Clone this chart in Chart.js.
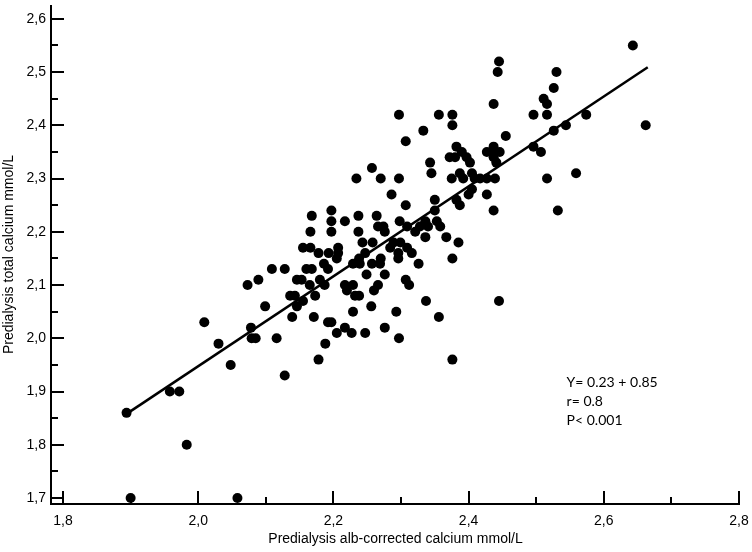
<!DOCTYPE html>
<html lang="en">
<head>
<meta charset="UTF-8">
<title>Predialysis calcium</title>
<script src="https://cdn.jsdelivr.net/npm/chart.js@4"></script>
<style>
  body { margin: 0; background: #fff; }
  .chart-container { position: relative; width: 752px; height: 552px; }
</style>
</head>
<body>
<div class="chart-container"><canvas id="calciumChart" width="752" height="552"></canvas></div>
<script>
// alb-corrected calcium (x) and total calcium (y), mmol/L
const correctedCa = [
  1.894, 1.900, 1.958, 1.972, 1.983, 2.058, 2.009, 2.030, 2.048, 2.073,
  2.089, 2.078, 2.079, 2.085, 2.099, 2.116, 2.109, 2.128, 2.128, 2.136,
  2.143, 2.139, 2.146, 2.153, 2.155, 2.146, 2.160, 2.168, 2.165, 2.173,
  2.171, 2.180, 2.187, 2.186, 2.192, 2.178, 2.188, 2.192, 2.197, 2.205,
  2.217, 2.227, 2.247, 2.229, 2.256, 2.276, 2.293, 2.297, 2.217, 2.229,
  2.220, 2.232, 2.238, 2.229, 2.239, 2.249, 2.257, 2.269, 2.276, 2.266,
  2.260, 2.307, 2.312, 2.326, 2.337, 2.445, 2.356, 2.376,
  2.168, 2.197, 2.197, 2.217, 2.237, 2.166, 2.197, 2.237, 2.155, 2.166,
  2.178, 2.193, 2.207, 2.207, 2.205, 2.243, 2.258, 2.247, 2.238, 2.264,
  2.266, 2.274, 2.276, 2.298, 2.309, 2.321, 2.328, 2.336, 2.340, 2.353,
  2.358, 2.336, 2.367, 2.385, 2.289, 2.299, 2.284, 2.296, 2.309, 2.316,
  2.270, 2.296, 2.376,
  2.234, 2.257, 2.270, 2.297, 2.343, 2.345, 2.286, 2.307, 2.350, 2.350,
  2.382, 2.387, 2.400, 2.437, 2.532, 2.405, 2.427, 2.375, 2.387, 2.392,
  2.405, 2.409, 2.417, 2.427, 2.439, 2.516, 2.559, 2.382, 2.372, 2.380,
  2.390, 2.397, 2.402, 2.427, 2.437, 2.439, 2.437, 2.441, 2.446, 2.496,
  2.507, 2.455, 2.297, 2.356, 2.376, 2.376, 2.333, 2.307, 2.437, 2.443,
  2.445, 2.643, 2.530, 2.526, 2.511, 2.516, 2.496, 2.516, 2.574, 2.544,
  2.526, 2.662
];
const totalCa = [
  1.86, 1.70, 1.90, 1.90, 1.80, 1.70, 2.03, 1.99, 1.95, 2.10,
  2.11, 2.02, 2.00, 2.00, 2.06, 2.00, 2.13, 2.13, 1.93, 2.08,
  2.08, 2.04, 2.11, 2.11, 2.07, 2.06, 2.13, 2.13, 2.10, 2.08,
  2.04, 2.11, 2.10, 2.14, 2.13, 1.96, 1.99, 2.03, 2.03, 2.01,
  2.02, 2.01, 2.01, 2.05, 2.06, 2.02, 2.05, 2.00, 2.10, 2.10,
  2.09, 2.08, 2.08, 2.14, 2.14, 2.12, 2.14, 2.14, 2.12, 2.10,
  2.09, 2.11, 2.10, 2.14, 2.07, 2.07, 2.04, 1.96,
  2.23, 2.24, 2.22, 2.22, 2.23, 2.20, 2.20, 2.20, 2.17, 2.17,
  2.16, 2.16, 2.17, 2.16, 2.15, 2.18, 2.18, 2.16, 2.15, 2.23,
  2.21, 2.21, 2.20, 2.22, 2.21, 2.20, 2.21, 2.22, 2.21, 2.22,
  2.21, 2.19, 2.19, 2.18, 2.18, 2.18, 2.17, 2.16, 2.17, 2.16,
  2.15, 2.15, 2.15,
  2.30, 2.32, 2.30, 2.30, 2.33, 2.31, 2.27, 2.25, 2.26, 2.24,
  2.26, 2.25, 2.27, 2.24, 2.24, 2.28, 2.27, 2.30, 2.31, 2.30,
  2.31, 2.30, 2.30, 2.30, 2.30, 2.30, 2.31, 2.36, 2.34, 2.34,
  2.35, 2.34, 2.33, 2.35, 2.36, 2.35, 2.34, 2.33, 2.35, 2.36,
  2.35, 2.38, 2.42, 2.42, 2.42, 2.40, 2.39, 2.37, 2.44, 2.50,
  2.52, 2.55, 2.50, 2.47, 2.45, 2.44, 2.42, 2.42, 2.42, 2.40,
  2.39, 2.40
];
// fitted regression line end points
const fitX = [1.894, 2.665];
const fitY = [1.858, 2.509];

const xTicks = [1.8, 1.9, 2.0, 2.1, 2.2, 2.3, 2.4, 2.5, 2.6, 2.7, 2.8];
const yTicks = [1.7, 1.75, 1.8, 1.85, 1.9, 1.95, 2.0, 2.05, 2.1, 2.15, 2.2,
                2.25, 2.3, 2.35, 2.4, 2.45, 2.5, 2.55, 2.6];
const statsLines = ['Y= 0.23 + 0.85', 'r= 0.8', 'P< 0.001'];

const points = correctedCa.map((x, i) => ({ x: x, y: totalCa[i] }));
const fitLine = fitX.map((x, i) => ({ x: x, y: fitY[i] }));

const isMajorX = v => Math.round(v * 10) % 2 === 0;
const isMajorY = v => Math.round(v * 100) % 10 === 0;
const fmt = v => v.toFixed(1).replace('.', ',');
const axisFont = { family: '"Liberation Sans", Arial, sans-serif', size: 14 };

// axis lines + inward ticks, plus the stats text
const axesPlugin = {
  id: 'axesPlugin',
  afterDraw(chart) {
    const ctx = chart.ctx;
    const xs = chart.scales.x, ys = chart.scales.y;
    const a = chart.chartArea;
    ctx.save();
    ctx.strokeStyle = '#000';
    ctx.lineWidth = 2;
    ctx.beginPath();
    ctx.moveTo(a.left, a.top);
    ctx.lineTo(a.left, a.bottom);
    ctx.moveTo(a.left - 1, a.bottom);
    ctx.lineTo(a.right, a.bottom);
    xTicks.forEach(v => {
      const px = Math.round(xs.getPixelForValue(v));
      const len = isMajorX(v) ? 13 : 7;
      ctx.moveTo(px, a.bottom);
      ctx.lineTo(px, a.bottom - len);
    });
    yTicks.forEach(v => {
      const py = Math.round(ys.getPixelForValue(v));
      const len = isMajorY(v) ? 13 : 7;
      ctx.moveTo(a.left, py);
      ctx.lineTo(a.left + len, py);
    });
    ctx.stroke();

    ctx.fillStyle = '#000';
    ctx.font = '14px Lato, "Open Sans", sans-serif';
    ctx.textBaseline = 'middle';
    const tx = xs.getPixelForValue(2.545);
    statsLines.forEach((s, i) => {
      ctx.fillText(s, tx, 382 + i * 19);
    });
    ctx.restore();
  }
};

const ctx = document.getElementById('calciumChart').getContext('2d');
const calciumChart = new Chart(ctx, {
  type: 'scatter',
  data: {
    datasets: [
      {
        data: points,
        backgroundColor: '#000',
        borderWidth: 0,
        pointRadius: 5,
        pointHoverRadius: 5
      },
      {
        type: 'line',
        data: fitLine,
        borderColor: '#000',
        borderWidth: 2.5,
        pointRadius: 0,
        fill: false
      }
    ]
  },
  options: {
    responsive: false,
    animation: false,
    events: [],
    layout: { padding: { top: 2, right: 12 } },
    plugins: { legend: { display: false }, tooltip: { enabled: false } },
    scales: {
      x: {
        type: 'linear',
        min: 1.7822,
        max: 2.8015,
        afterBuildTicks: s => { s.ticks = xTicks.map(v => ({ value: v })); },
        afterFit: s => { s.height = 48; s.paddingLeft = 0; s.paddingRight = 0; },
        grid: { display: false, drawTicks: false },
        border: { display: false },
        ticks: {
          autoSkip: false,
          maxRotation: 0,
          padding: 9,
          color: '#000',
          font: axisFont,
          callback: v => isMajorX(v) ? fmt(v) : ''
        },
        title: {
          display: true,
          text: 'Predialysis alb-corrected calcium mmol/L',
          color: '#000',
          font: axisFont,
          padding: { top: 2, bottom: 4 }
        }
      },
      y: {
        type: 'linear',
        min: 1.6888,
        max: 2.626,
        afterBuildTicks: s => { s.ticks = yTicks.map(v => ({ value: v })); },
        afterFit: s => { s.width = 51; s.paddingTop = 0; s.paddingBottom = 0; },
        grid: { display: false, drawTicks: false },
        border: { display: false },
        ticks: {
          autoSkip: false,
          padding: 5,
          color: '#000',
          font: axisFont,
          callback: v => isMajorY(v) ? fmt(v) : ''
        },
        title: {
          display: true,
          text: 'Predialysis total calcium mmol/L',
          color: '#000',
          font: axisFont,
          padding: { top: 1, bottom: 0 }
        }
      }
    }
  },
  plugins: [axesPlugin]
});
</script>
</body>
</html>
